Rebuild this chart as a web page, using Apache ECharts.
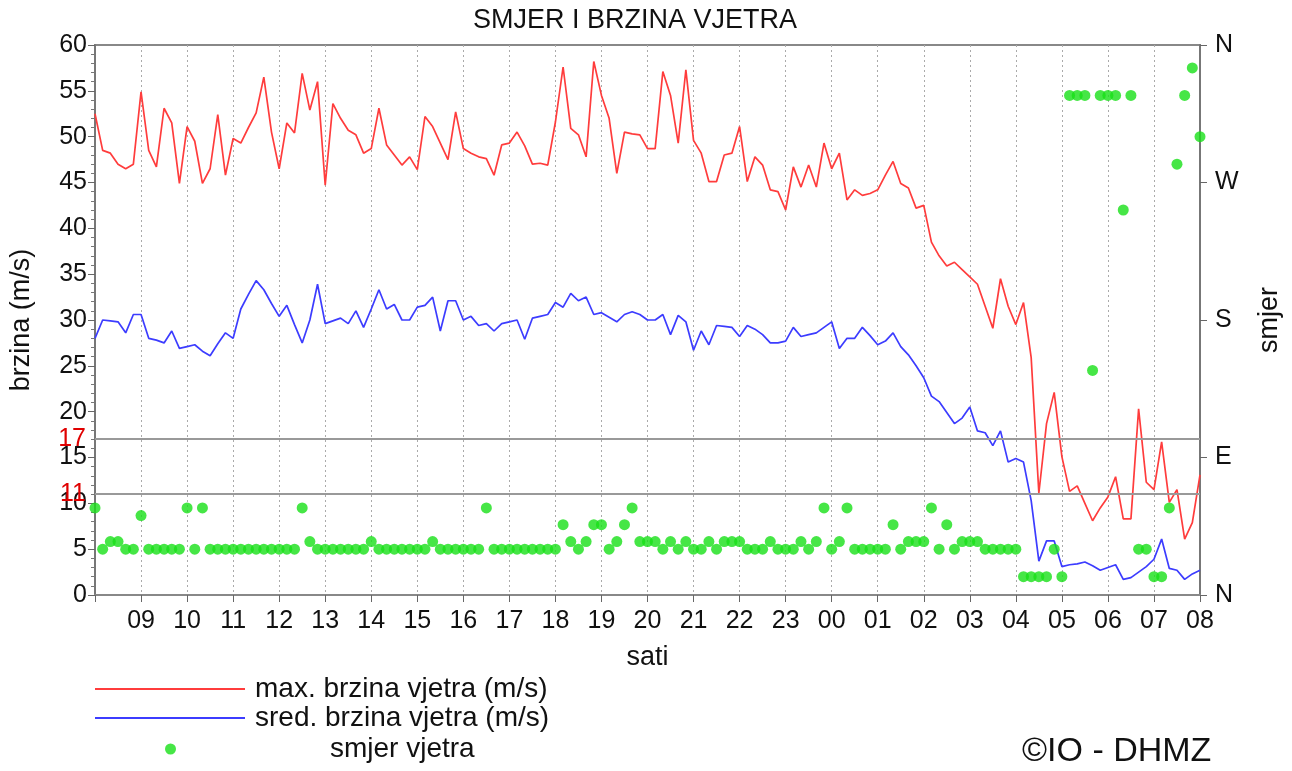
<!DOCTYPE html>
<html><head><meta charset="utf-8">
<script src="https://cdn.jsdelivr.net/npm/echarts@6/dist/echarts.min.js"></script>
<style>html,body{margin:0;padding:0;background:#fff}#c{width:1292px;height:771px}</style>
</head><body><div id="c"></div>
<script>
// 10-minute values, 08:00 .. 08:00 next day (145 samples)
const maxWind=[52.5,48.5,48.2,47.0,46.5,47.0,54.9,48.5,46.7,53.1,
 51.5,44.9,51.1,49.5,44.9,46.5,52.4,45.8,49.8,49.3,
 51.0,52.6,56.5,50.5,46.5,51.5,50.4,56.9,52.9,56.0,
 44.7,53.6,52.0,50.7,50.2,48.2,48.7,53.1,49.1,48.0,
 46.9,47.8,46.4,52.2,51.1,49.3,47.5,52.7,48.7,48.2,
 47.8,47.6,45.8,49.1,49.3,50.5,49.0,47.0,47.1,46.9,
 51.6,57.6,50.9,50.2,47.8,58.2,54.5,52.0,46.0,50.5,
 50.3,50.2,48.7,48.7,57.1,54.5,49.3,57.3,49.6,48.2,
 45.1,45.1,48.0,48.2,51.1,45.1,47.8,46.9,44.2,44.0,
 42.0,46.7,44.5,46.9,44.5,49.3,46.5,48.2,43.1,44.2,
 43.6,43.8,44.2,45.8,47.3,44.9,44.4,42.2,42.5,38.5,
 37.0,35.9,36.3,35.5,34.7,33.9,31.5,29.1,34.5,31.5,
 29.5,31.9,25.9,11.1,18.7,22.1,15.1,11.3,11.9,10.0,
 8.1,9.5,10.7,12.9,8.3,8.3,20.3,12.3,11.5,16.7,
 10.1,11.5,6.1,7.9,13.1];
const avgWind=[28.0,30.0,29.9,29.8,28.6,30.6,30.6,28.0,27.8,27.5,
 28.8,26.9,27.1,27.3,26.6,26.1,27.4,28.6,28.0,31.2,
 32.8,34.3,33.3,31.8,30.4,31.6,29.5,27.5,30.0,33.9,
 29.6,29.9,30.2,29.6,31.0,29.2,31.2,33.3,31.2,31.7,
 30.0,30.0,31.4,31.6,32.5,28.8,32.1,32.1,30.0,30.4,
 29.4,29.6,28.8,29.6,29.8,30.0,27.9,30.2,30.4,30.6,
 31.9,31.4,32.9,32.1,32.5,30.6,30.8,30.3,29.8,30.6,
 30.9,30.6,30.0,30.0,30.6,28.4,30.5,29.8,26.7,28.8,
 27.3,29.4,29.3,29.2,28.2,29.4,29.0,28.4,27.5,27.5,
 27.7,29.2,28.2,28.4,28.6,29.2,29.8,26.9,28.0,28.0,
 29.2,28.3,27.3,27.7,28.6,27.1,26.2,25.0,23.7,21.7,
 21.1,19.9,18.7,19.3,20.5,17.9,17.7,16.3,17.9,14.5,
 14.9,14.5,10.3,3.7,5.9,5.9,3.1,3.3,3.4,3.6,
 3.2,2.7,3.0,3.3,1.7,1.9,2.5,3.1,3.9,6.1,
 2.9,2.7,1.7,2.3,2.7];
// wind direction, degrees
const windDir=[57,30,35,35,30,30,52,30,30,30,
 30,30,57,30,57,30,30,30,30,30,
 30,30,30,30,30,30,30,57,35,30,
 30,30,30,30,30,30,35,30,30,30,
 30,30,30,30,35,30,30,30,30,30,
 30,57,30,30,30,30,30,30,30,30,
 30,46,35,30,35,46,46,30,35,46,
 57,35,35,35,30,35,30,35,30,30,
 35,30,35,35,35,30,30,30,35,30,
 30,30,35,30,35,57,30,35,57,30,
 30,30,30,30,46,30,35,35,35,57,
 30,46,30,35,35,35,30,30,30,30,
 30,12,12,12,12,30,12,327,327,327,
 147,327,327,327,252,327,30,30,12,12,
 57,282,327,345,300];
const hourLabels=['08','09','10','11','12','13','14','15','16','17','18','19','20','21','22','23','00','01','02','03','04','05','06','07','08'];
const dirLabels={0:'N',90:'E',180:'S',270:'W',360:'N'};
const thresholds=[17,11];
const names=['max. brzina vjetra (m/s)','sred. brzina vjetra (m/s)','smjer vjetra'];

const times=[];
for(let h=0;h<24;h++){for(let m=0;m<60;m+=10){times.push(hourLabels[h]+':'+(m===0?'00':m));}}
times.push(hourLabels[24]+':00');

const FONT='Liberation Sans';
const TXT='#111';
const FS=27, TS=25;
const chart=echarts.init(document.getElementById('c'),null,{renderer:'canvas'});
chart.setOption({
  animation:false,
  backgroundColor:'#fff',
  textStyle:{fontFamily:FONT,color:TXT},
  title:[
    {text:'SMJER I BRZINA VJETRA',left:468,top:2,textStyle:{fontFamily:FONT,fontSize:FS,fontWeight:'normal',color:TXT}},
    {text:'©IO - DHMZ',left:1017,top:730,textStyle:{fontFamily:FONT,fontSize:34,fontWeight:'normal',color:TXT}}
  ],
  legend:[
    {data:[names[0]],left:90,top:670,icon:'rect',itemWidth:150,itemHeight:2,textStyle:{fontFamily:FONT,fontSize:28,color:TXT,padding:[0,0,0,5]}},
    {data:[names[1]],left:90,top:699,icon:'rect',itemWidth:150,itemHeight:2,textStyle:{fontFamily:FONT,fontSize:28,color:TXT,padding:[0,0,0,5]}},
    {data:[names[2]],left:160,top:730,icon:'circle',itemWidth:11,itemHeight:11,textStyle:{fontFamily:FONT,fontSize:28,color:TXT,padding:[0,0,0,149]}}
  ],
  grid:{left:95,top:45,width:1105,height:550,show:true,borderColor:'#888',borderWidth:2,backgroundColor:'transparent'},
  xAxis:{
    type:'category',data:times,boundaryGap:false,
    name:'sati',nameLocation:'middle',nameGap:49,nameTextStyle:{fontFamily:FONT,fontSize:FS,color:TXT},
    axisLine:{lineStyle:{color:'#888',width:2}},
    axisTick:{interval:5,length:7,lineStyle:{color:'#666'}},
    axisLabel:{interval:5,margin:14,fontSize:TS,color:TXT,fontFamily:FONT,
      formatter:(v,i)=> (i>0 && i%6===0) ? v.slice(0,2) : ''},
    splitLine:{show:true,interval:5,lineStyle:{color:'#aaa',type:[2,3],width:1}}
  },
  yAxis:[
    {type:'value',min:0,max:60,interval:5,position:'left',
     name:'brzina (m/s)',nameLocation:'middle',nameGap:60,nameRotate:90,nameTextStyle:{fontFamily:FONT,fontSize:FS,color:TXT},
     axisLine:{show:true,lineStyle:{color:'#777',width:2}},
     axisTick:{show:true,length:7,lineStyle:{color:'#666'}},
     minorTick:{show:true,splitNumber:5,length:4,lineStyle:{color:'#777'}},
     axisLabel:{fontSize:TS,color:TXT,fontFamily:FONT,margin:8},
     splitLine:{show:false}},
    {type:'value',min:0,max:360,interval:90,position:'right',
     name:'smjer',nameLocation:'middle',nameGap:56,nameRotate:90,nameTextStyle:{fontFamily:FONT,fontSize:FS,color:TXT},
     axisLine:{show:true,lineStyle:{color:'#777',width:2}},
     axisTick:{show:true,length:7,lineStyle:{color:'#666'}},
     axisLabel:{fontSize:TS,color:TXT,fontFamily:FONT,margin:15,formatter:v=>dirLabels[v]},
     splitLine:{show:false}}
  ],
  series:[
    {name:names[0],type:'line',data:maxWind,yAxisIndex:0,showSymbol:false,symbol:'none',
     lineStyle:{color:'#ff3c3c',width:1.7},itemStyle:{color:'#ff3c3c'},z:3,
     markLine:{silent:true,symbol:'none',animation:false,
       lineStyle:{color:'#999',type:'solid',width:2},
       label:{position:'start',color:'#e00000',fontSize:TS,fontFamily:FONT,distance:9,formatter:p=>p.value},
       data:thresholds.map(v=>({yAxis:v}))}},
    {name:names[1],type:'line',data:avgWind,yAxisIndex:0,showSymbol:false,symbol:'none',
     lineStyle:{color:'#3c3cff',width:1.7},itemStyle:{color:'#3c3cff'},z:3},
    {name:names[2],type:'scatter',data:windDir,yAxisIndex:1,symbol:'circle',symbolSize:11,
     itemStyle:{color:'#18e018'},z:4}
  ]
});
</script></body></html>
